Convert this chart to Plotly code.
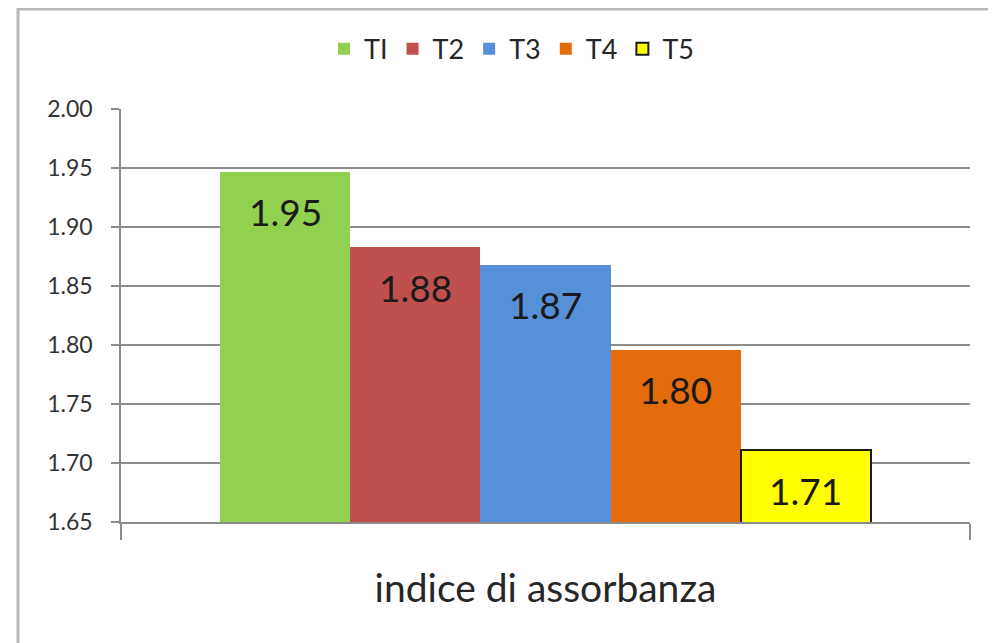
import plotly.graph_objects as go

series = ["TI", "T2", "T3", "T4", "T5"]
values = [1.947, 1.883, 1.868, 1.796, 1.711]
colors = ["#92D050", "#C0504D", "#5590D9", "#E46C0A", "#FFFF00"]
outline = ["rgba(0,0,0,0)"] * 4 + ["#1a1a1a"]
category = "indice di assorbanza"
y_ticks = [1.65, 1.70, 1.75, 1.80, 1.85, 1.90, 1.95, 2.00]

fig = go.Figure()
for name, val, col, lc in zip(series, values, colors, outline):
    fig.add_trace(go.Bar(
        x=[name], y=[val], name=name,
        marker=dict(color=col, line=dict(color=lc, width=2)),
        width=1,
    ))
    fig.add_annotation(
        x=name, y=val, text=f"{val:.2f}", showarrow=False,
        yshift=-40, yanchor="middle",
        font=dict(size=37, color="#1a1a1a"),
    )

# page body adds an 8px offset, so the figure is a bit smaller than the window
fig.update_layout(
    width=988, height=635,
    margin=dict(l=113, r=26, t=101, b=121, autoexpand=False),
    paper_bgcolor="white", plot_bgcolor="white",
    font=dict(family="Lato", color="#404040"),
    barmode="overlay", bargap=0,
    showlegend=True,
    legend=dict(orientation="h", x=0.46, xanchor="center", y=1.145, yanchor="middle",
                font=dict(size=27, color="#262626"), itemwidth=30, traceorder="normal"),
    xaxis=dict(
        type="category", range=[-1.265, 5.265], automargin=False,
        showticklabels=False, showgrid=False,
        showline=True, linecolor="#8c8c8c", linewidth=1.5,
        tickmode="array", tickvals=[-1.265, 5.265], ticktext=["", ""],
        ticks="outside", ticklen=16, tickcolor="#8c8c8c", tickwidth=1.5,
        title=dict(text=category, font=dict(size=39, color="#262626"), standoff=36),
    ),
    yaxis=dict(
        range=[1.65, 2.0], tickvals=y_ticks, tickformat=".2f", automargin=False,
        showgrid=True, gridcolor="#8c8c8c", gridwidth=1.5,
        showline=True, linecolor="#8c8c8c", linewidth=1.5,
        ticks="outside", ticklen=8, tickcolor="#8c8c8c", tickwidth=1.5,
        ticklabelstandoff=14,
        tickfont=dict(size=23, color="#333333"), zeroline=False,
    ),
    shapes=[dict(type="rect", xref="paper", yref="paper",
                 x0=-0.1213, x1=1.0294, y0=-0.35, y1=1.2423,
                 line=dict(color="#b8b8b8", width=3))],
)

fig.write_html("out.html")
